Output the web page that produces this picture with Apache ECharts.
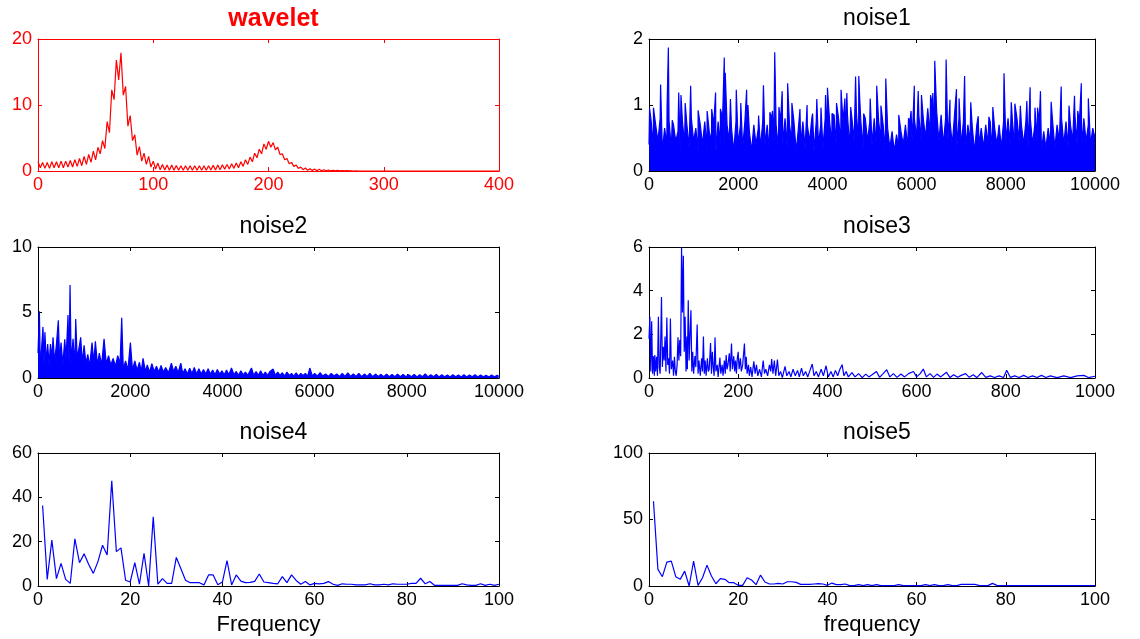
<!DOCTYPE html>
<html>
<head>
<meta charset="utf-8">
<script src="https://cdn.jsdelivr.net/npm/echarts@6/dist/echarts.min.js"></script>
<style>html,body{margin:0;padding:0;background:#fff}#c{width:1140px;height:639px}</style>
</head>
<body>
<div id="c"></div>
<script>
// ---------- data ----------
const waveletStep = 2; // frequency spacing of wavelet samples
const waveletAmp = [1.4,0.5,1.3,0.4,1.3,0.4,1.4,0.5,1.4,0.5,1.5,0.5,1.5,0.6,1.6,0.6,1.7,0.7,1.9,0.8,
 2.2,1.0,2.5,1.3,3.0,1.7,3.6,2.6,4.6,3.4,7.5,5.8,12.3,10.8,16.8,13.8,17.9,11.5,12.8,6.8,
 8.4,4.6,5.5,2.4,3.7,1.5,2.7,1.0,2.2,0.6,1.5,0.3,1.2,0.2,1.0,0.15,0.9,0.1,0.9,0.1,
 0.85,0.1,0.8,0.1,0.8,0.1,0.8,0.1,0.8,0.1,0.8,0.1,0.8,0.1,0.8,0.15,0.85,0.15,0.9,0.2,
 0.95,0.25,1.0,0.3,1.1,0.4,1.2,0.5,1.4,0.7,1.7,1.0,2.1,1.4,2.7,2.0,3.3,2.6,4.1,3.3,
 4.5,3.6,4.3,3.2,3.6,2.5,2.6,1.7,1.9,1.1,1.3,0.7,0.9,0.4,0.6,0.2,0.45,0.1,0.35,0.08,
 0.3,0.05,0.25,0.04,0.2,0.03,0.15,0.02,0.12,0.02,0.1,0.01,0.08,0.01,0.06,0.01,0.04,0,0.02,0,0];
const waveletEnd = [400, 0];

// noise1: tall spikes, plus the dense body sampled every 50 Hz
const noise1Peaks = [[13,0.95],[100,0.96],[260,1.31],[405,0.97],[434,1.87],[521,0.77],[666,1.19],[717,1.15],[811,1.03],[934,1.29],[1101,0.92],[1304,0.91],[1406,0.94],[1493,1.19],[1601,0.94],[1688,1.72],[1710,1.49],[1826,1.09],[1957,1.23],[2058,1.03],[2189,1.23],[2218,1.0],[2457,0.84],[2566,1.30],[2711,0.89],[2769,0.91],[2819,1.80],[2914,0.97],[2986,1.21],[3109,1.33],[3204,1.03],[3385,0.94],[3544,1.0],[3668,0.87],[3762,1.09],[3856,0.96],[3958,1.15],[4001,1.26],[4103,0.87],[4204,1.03],[4306,1.23],[4393,1.10],[4436,1.18],[4523,0.97],[4632,1.43],[4704,1.44],[4728,1.05],[4813,0.87],[4960,1.10],[5106,1.29],[5200,0.99],[5309,1.40],[5600,0.85],[5818,0.80],[5876,0.91],[5949,1.29],[6036,1.21],[6109,1.15],[6313,1.15],[6364,1.18],[6407,1.67],[6662,1.69],[6749,1.08],[6894,1.24],[6952,1.10],[7076,1.44],[7214,1.04],[7381,0.83],[7621,0.82],[7709,0.97],[7960,1.48],[8123,1.04],[8203,1.02],[8326,0.99],[8472,1.06],[8545,1.27],[8654,0.96],[8712,0.96],[8777,1.21],[9017,1.05],[9242,1.28],[9417,0.99],[9540,1.14],[9613,0.91],[9693,1.33],[9850,1.1]];
const noise1BodyStep = 50;
const noise1Body = [
 0.4,0.75,0.35,0.7,0.45,0.8,0.3,0.65,0.4,0.75, 0.35,0.7,0.45,0.6,0.3,0.75,0.4,0.7,0.35,0.8,
 0.45,0.65,0.3,0.7,0.4,0.75,0.35,0.6,0.45,0.7, 0.3,0.75,0.4,0.8,0.35,0.7,0.45,0.65,0.3,0.75,
 0.4,0.7,0.35,0.75,0.45,0.6,0.3,0.7,0.4,0.65, 0.35,0.75,0.4,0.7,0.3,0.8,0.45,0.7,0.35,0.75,
 0.4,0.8,0.35,0.7,0.45,0.75,0.3,0.65,0.4,0.75, 0.35,0.7,0.45,0.8,0.3,0.75,0.4,0.7,0.35,0.8,
 0.45,0.75,0.4,0.85,0.35,0.8,0.45,0.75,0.4,0.85, 0.35,0.8,0.45,0.9,0.4,0.75,0.35,0.8,0.45,0.75,
 0.4,0.8,0.35,0.75,0.45,0.7,0.3,0.65,0.35,0.6, 0.3,0.55,0.35,0.6,0.4,0.7,0.35,0.75,0.45,0.8,
 0.5,0.85,0.45,0.8,0.5,0.95,0.55,1.0,0.5,0.9, 0.45,0.85,0.4,0.8,0.45,0.75,0.4,0.85,0.35,0.8,
 0.4,0.75,0.35,0.7,0.45,0.65,0.3,0.7,0.4,0.65, 0.35,0.7,0.4,0.75,0.3,0.65,0.4,0.7,0.35,0.75,
 0.45,0.8,0.4,0.75,0.35,0.8,0.45,0.7,0.4,0.75, 0.35,0.8,0.4,0.7,0.45,0.75,0.3,0.6,0.35,0.65,
 0.4,0.75,0.35,0.7,0.45,0.8,0.4,0.75,0.35,0.7, 0.45,0.85,0.4,0.75,0.35,0.8,0.45,0.7,0.4,0.65,
 0.5];

const noise2 = [[0,1.9],[30,5.1],[50,0.8],[80,2.4],[108,3.9],[130,1.0],[150,3.5],[180,1.2],[210,2.6],[240,1.0],[270,2.6],[300,1.5],[326,3.1],[360,1.2],[400,2.6],[441,4.4],[470,1.3],[500,2.7],[540,1.0],[580,2.96],[610,1.5],[651,4.8],[675,1.0],[695,7.1],[720,1.2],[760,3.0],[800,1.0],[818,4.5],[850,1.5],[890,2.3],[926,3.1],[960,1.2],[1000,2.5],[1040,1.1],[1080,1.8],[1120,0.9],[1172,2.7],[1210,1.2],[1245,2.8],[1290,1.0],[1330,1.9],[1380,1.0],[1433,3.0],[1480,1.1],[1530,1.7],[1580,1.0],[1630,1.5],[1680,0.9],[1730,1.7],[1780,1.1],[1816,4.6],[1850,0.7],[1900,1.3],[1950,0.6],[2004,2.7],[2050,0.6],[2100,1.3],[2150,0.6],[2200,1.2],[2240,0.5],[2279,1.5],[2330,0.5],[2370,1.0],[2420,0.45],[2470,1.1],[2520,0.5],[2570,0.9],[2620,0.45],[2670,0.95],[2720,0.45],[2770,0.8],[2830,0.4],[2894,1.14],[2940,0.5],[2990,0.9],[3040,0.4],[3097,1.14],[3140,0.35],[3190,0.7],[3240,0.3],[3290,0.75],[3340,0.35],[3390,0.8],[3440,0.3],[3490,0.7],[3540,0.3],[3590,0.65],[3640,0.3],[3690,0.7],[3740,0.3],[3790,0.6],[3840,0.25],[3890,0.65],[3940,0.3],[3990,0.55],[4040,0.25],[4090,0.6],[4140,0.25],[4197,0.76],[4250,0.25],[4300,0.5],[4350,0.2],[4400,0.55],[4450,0.25],[4500,0.45],[4550,0.2],[4631,0.76],[4680,0.2],[4730,0.5],[4780,0.2],[4830,0.55],[4880,0.2],[4930,0.45],[4980,0.2],[5030,0.5],[5101,0.68],[5150,0.2],[5200,0.45],[5250,0.2],[5300,0.4],[5350,0.15],[5400,0.45],[5450,0.2],[5500,0.35],[5550,0.15],[5600,0.4],[5650,0.15],[5700,0.35],[5750,0.2],[5800,0.35],[5850,0.15],[5897,0.76],[5950,0.15],[6000,0.35],[6060,0.15],[6120,0.4],[6180,0.15],[6240,0.3],[6300,0.12],[6360,0.35],[6420,0.15],[6480,0.3],[6540,0.12],[6600,0.35],[6660,0.12],[6720,0.4],[6780,0.12],[6840,0.3],[6900,0.12],[6960,0.35],[7020,0.1],[7080,0.3],[7140,0.12],[7200,0.35],[7260,0.1],[7320,0.3],[7380,0.12],[7440,0.28],[7500,0.1],[7560,0.3],[7620,0.1],[7680,0.28],[7740,0.1],[7800,0.3],[7860,0.1],[7920,0.28],[7980,0.1],[8040,0.25],[8100,0.1],[8160,0.28],[8220,0.08],[8280,0.25],[8340,0.1],[8400,0.32],[8460,0.08],[8520,0.25],[8580,0.1],[8640,0.28],[8700,0.08],[8760,0.25],[8820,0.1],[8880,0.22],[8940,0.08],[9000,0.25],[9060,0.1],[9120,0.22],[9180,0.08],[9240,0.25],[9300,0.08],[9360,0.22],[9420,0.1],[9480,0.25],[9540,0.08],[9600,0.22],[9660,0.1],[9720,0.2],[9780,0.08],[9840,0.22],[9900,0.1],[9960,0.2],[10000,0.12]];

const noise3 = [[0,1.8],[2,2.8],[4,0.3],[6,2.6],[8,0.2],[10,1.0],[12,0.1],[13,1.05],[15,0.3],[17,0.97],[19,0.1],[21,2.8],[23,0.5],[25,0.2],[28,3.71],[30,0.5],[32,1.43],[34,0.8],[36,1.9],[38,0.3],[40,2.77],[42,0.6],[44,0.9],[46,0.2],[48,2.72],[50,0.4],[53,0.8],[55,0.1],[57,0.97],[59,0.3],[61,0.1],[63,0.6],[65,1.86],[67,0.8],[69,1.74],[71,1.0],[73,6.0],[75,3.0],[77,5.6],[79,1.2],[81,2.8],[83,0.3],[85,1.9],[86,0.4],[88,3.56],[90,0.8],[92,2.0],[94,3.1],[96,0.3],[98,1.2],[100,0.2],[103,1.0],[105,0.5],[108,2.45],[110,0.2],[112,0.8],[115,0.1],[118,0.9],[120,0.3],[122,1.9],[124,0.2],[126,0.8],[128,0.1],[131,0.9],[133,0.3],[135,0.4],[138,1.6],[140,0.2],[142,1.2],[144,0.5],[146,0.1],[148,1.86],[150,0.3],[153,0.6],[155,0.05],[159,0.94],[161,0.2],[164,0.6],[166,0.1],[169,0.8],[171,0.2],[173,1.05],[175,0.4],[177,0.6],[180,1.13],[182,0.3],[185,1.58],[187,0.4],[190,1.0],[192,0.3],[194,0.8],[196,0.2],[198,0.9],[200,1.2],[202,0.4],[205,0.9],[207,0.3],[210,0.6],[214,1.58],[216,0.4],[218,0.97],[220,0.2],[223,0.6],[225,0.1],[228,0.5],[231,0.05],[235,0.76],[238,0.2],[241,0.6],[244,0.1],[248,0.4],[252,0.05],[256,0.8],[259,0.2],[262,0.4],[266,0.1],[270,0.6],[273,0.3],[275,0.87],[278,0.2],[281,0.8],[284,0.1],[288,0.85],[291,0.1],[295,0.3],[299,0.02],[305,0.53],[309,0.1],[314,0.3],[318,0.05],[323,0.4],[328,0.1],[333,0.35],[337,0.05],[342,0.45],[346,0.1],[351,0.3],[356,0.05],[361,0.35],[366,0.64],[370,0.1],[375,0.3],[380,0.05],[386,0.4],[391,0.1],[397,0.56],[402,0.05],[408,0.3],[413,0.05],[418,0.35],[423,0.1],[428,0.4],[433,0.61],[437,0.1],[442,0.3],[447,0.05],[455,0.25],[462,0.05],[470,0.2],[478,0.02],[486,0.18],[493,0.05],[500,0.15],[510,0.3],[517,0.03],[525,0.2],[533,0.38],[540,0.05],[548,0.2],[556,0.03],[565,0.18],[573,0.05],[582,0.2],[593,0.3],[600,0.05],[608,0.2],[615,0.41],[622,0.05],[630,0.2],[638,0.03],[646,0.18],[654,0.05],[660,0.15],[667,0.26],[675,0.02],[683,0.15],[692,0.03],[700,0.12],[710,0.2],[718,0.03],[727,0.15],[735,0.02],[746,0.25],[755,0.03],[765,0.1],[775,0.02],[785,0.1],[795,0.02],[802,0.35],[810,0.03],[820,0.1],[830,0.02],[840,0.12],[850,0.02],[860,0.1],[870,0.02],[880,0.12],[890,0.02],[900,0.1],[915,0.02],[930,0.1],[945,0.02],[960,0.1],[975,0.12],[985,0.02],[1000,0.08]];

// noise4 / noise5: amplitudes at frequencies 1..100
const noise4Amp = [36.3,3,20.7,3.3,10.2,3,1.2,21.3,10.5,14.5,9.7,5.7,11,18.4,14,47.5,15.5,17.2,2.6,1.8,
 10.5,0.8,14.7,0,31.2,0.8,3.3,1.2,1.2,12.9,7.8,2.6,1.5,1.5,1.5,0.5,5,5,0.6,1.8,
 11.5,0.5,5,2.2,1.5,1.6,2.1,5.4,1.8,1.5,1.2,1.0,4.2,1.5,5,2.5,0.8,2,0.5,1.2,
 1,1.2,2,0.8,0.3,1,0.8,0.8,0.5,0.5,0.5,1,0.5,0.5,0.8,0.5,1,0.8,0.8,0.8,
 1.2,1.2,3.5,1,2,0.3,0.3,0.3,0.3,0.3,0.3,1,0.5,0.3,0.3,1,0.3,0.8,0.3,0.8];
const noise5Amp = [63.7,12.5,7,18,18.7,7,5,11.2,0,18.7,0.5,6.2,15.7,7.5,1.7,5.5,5,2.5,2.5,0.5,
 0.5,6.2,4.5,1,8.2,3,1.5,1.5,2,1.5,3.2,3.2,2.7,1.2,1.2,1.2,1.5,1.8,1.5,0.5,
 2.2,1,1,1.5,0.3,0.3,1,0.3,1,0.3,1,0.3,0.3,0.3,0.3,1,0.3,0.3,0.3,0.3,
 0.3,1,0.3,1,0.3,0.3,1,0.3,0.3,1.2,1.2,1.2,1.2,0.5,0.3,0.3,2,0.5,0.3,0.3,
 0.3,0.3,0.3,0.3,0.3,0.3,0.3,0.3,0.3,0.3,0.3,0.3,0.3,0.3,0.3,0.3,0.3,0.3,0.3,0.3];

const titles = ['wavelet','noise1','noise2','noise3','noise4','noise5'];
const xRanges = [[0,400,100],[0,10000,2000],[0,10000,2000],[0,1000,200],[0,100,20],[0,100,20]];
const yRanges = [[0,20,10],[0,2,1],[0,10,5],[0,6,2],[0,60,20],[0,100,50]];
const xNames = ['','','','','Frequency','frequency'];

// ---------- build ----------
const waveletData = waveletAmp.map((v,i)=>[i*waveletStep, v]).concat([waveletEnd]);
const noise1Data = noise1Body.map((v,i)=>[i*noise1BodyStep, v]).concat(noise1Peaks)
  .sort((a,b)=>a[0]-b[0]);
const noise4Data = noise4Amp.map((v,i)=>[i+1, v]);
const noise5Data = noise5Amp.map((v,i)=>[i+1, v]);

const boxes = [
  {left:38, top:39, width:461, height:132},
  {left:649, top:39, width:446, height:132},
  {left:38, top:247, width:461, height:131},
  {left:649, top:247, width:446, height:131},
  {left:38, top:453, width:461, height:133},
  {left:649, top:453, width:446, height:133}
];
const FONT = 'Liberation Sans, Arial, sans-serif';
const RED = '#ff0000', BLUE = '#0000ff', BLACK = '#000000';
const plain = v => String(v);

const grid = [], xAxis = [], yAxis = [], title = [];
boxes.forEach((b,i)=>{
  const col = i===0 ? RED : BLACK;
  grid.push(Object.assign({containLabel:false}, b));
  const axLine = {show:true, onZero:false, lineStyle:{color:col, width:1}};
  const tick = {show:true, inside:true, length:4, lineStyle:{color:col, width:1}};
  const lab = {color:col, fontSize:18, fontFamily:FONT, formatter:plain};
  const [xmin,xmax,xint] = xRanges[i];
  const [ymin,ymax,yint] = yRanges[i];
  xAxis.push({type:'value', gridIndex:i, position:'bottom', min:xmin, max:xmax, interval:xint,
    axisLine:axLine, axisTick:tick, splitLine:{show:false},
    axisLabel:Object.assign({margin:5, showMinLabel:true, showMaxLabel:true}, lab),
    name:xNames[i], nameLocation:'middle', nameGap:28,
    nameTextStyle:{color:col, fontSize:22, fontFamily:FONT, verticalAlign:'top'}});
  xAxis.push({type:'value', gridIndex:i, position:'top', min:xmin, max:xmax, interval:xint,
    axisLine:axLine, axisTick:tick, splitLine:{show:false}, axisLabel:{show:false}});
  yAxis.push({type:'value', gridIndex:i, position:'left', min:ymin, max:ymax, interval:yint,
    axisLine:axLine, axisTick:tick, splitLine:{show:false},
    axisLabel:Object.assign({margin:6}, lab)});
  yAxis.push({type:'value', gridIndex:i, position:'right', min:ymin, max:ymax, interval:yint,
    axisLine:axLine, axisTick:tick, splitLine:{show:false}, axisLabel:{show:false}});
  title.push({text:titles[i], left:b.left + b.width/2, top:b.top - 37, textAlign:'center',
    textStyle:{color:col, fontSize: i===0 ? 25 : 23, fontWeight: i===0 ? 'bold' : 'normal', fontFamily:FONT}});
});

function lineSeries(i, data, color, area){
  const s = {type:'line', xAxisIndex:i*2, yAxisIndex:i*2, data:data, showSymbol:false, symbol:'none',
    lineStyle:{color:color, width:1.2}, itemStyle:{color:color}, animation:false, clip:true, silent:true};
  if (area) s.areaStyle = {color:color, opacity:1};
  return s;
}

const chart = echarts.init(document.getElementById('c'), null, {renderer:'canvas'});
chart.setOption({
  backgroundColor:'#ffffff',
  animation:false,
  title, grid, xAxis, yAxis,
  series:[
    lineSeries(0, waveletData, RED, false),
    lineSeries(1, noise1Data, BLUE, true),
    lineSeries(2, noise2, BLUE, true),
    lineSeries(3, noise3, BLUE, false),
    lineSeries(4, noise4Data, BLUE, false),
    lineSeries(5, noise5Data, BLUE, false)
  ]
});
</script>
</body>
</html>
